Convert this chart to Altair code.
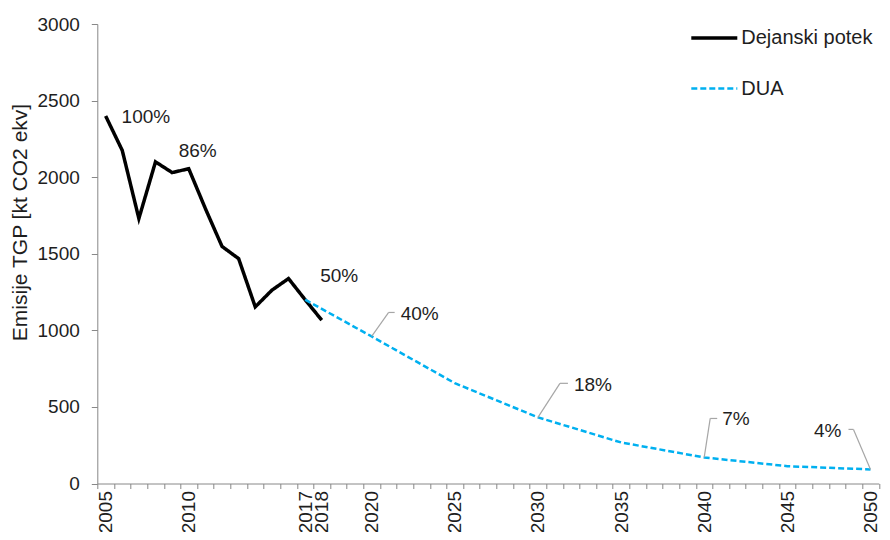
import altair as alt
import pandas as pd

# ---- categories of the x axis (Excel category axis, one blank slot after 2018) ----
categories = [str(y) for y in range(2005, 2020)] + ["2019b"] + [str(y) for y in range(2020, 2051)]
shown_labels = ["2005", "2010", "2017", "2018", "2020", "2025", "2030", "2035", "2040", "2045", "2050"]

# ---- series ----
series_names = ["Dejanski potek", "DUA"]
actual_years = ["2005", "2006", "2007", "2008", "2009", "2010", "2011", "2012",
                "2013", "2014", "2015", "2016", "2017", "2018"]
actual_values = [2400, 2175, 1730, 2100, 2030, 2055, 1795, 1548, 1468, 1153, 1262, 1338, 1200, 1066]

dua_years = ["2017", "2020", "2025", "2030", "2035", "2040", "2045", "2050"]
dua_values = [1200, 960, 655, 432, 268, 170, 113, 92]

# ---- percentage annotations ----
label_years = ["2005", "2010", "2017", "2020", "2030", "2040", "2050"]
label_texts = ["100%", "86%", "50%", "40%", "18%", "7%", "4%"]
label_source = ["Dejanski potek", "Dejanski potek", "Dejanski potek", "DUA", "DUA", "DUA", "DUA"]

line_df = pd.DataFrame({
    "cat": actual_years + dua_years,
    "value": actual_values + dua_values,
    "series": [series_names[0]] * len(actual_years) + [series_names[1]] * len(dua_years),
})

lookup = {(s, c): v for s, c, v in zip(line_df["series"], line_df["cat"], line_df["value"])}
label_df = pd.DataFrame({
    "cat": label_years,
    "text": label_texts,
    "value": [lookup[(s, c)] for s, c in zip(label_source, label_years)],
})

FONT = "Liberation Sans"
TXT = "#1e1e1e"
AX = "#888888"
LEAD = "#a6a6a6"
BLUE = "#00B0F0"

shown_js = "[" + ",".join("'%s'" % s for s in shown_labels) + "]"
x_axis = alt.Axis(
    title=None, labelExpr="indexof(%s, datum.value) >= 0 ? datum.value : ''" % shown_js,
    labelAngle=270, labelOverlap=False, ticks=True, tickBand="extent", tickSize=5, tickWidth=1,
    labelPadding=2, labelFontSize=19, labelFont=FONT, labelColor=TXT,
    domainColor=AX, tickColor=AX, grid=False,
)
x_enc = alt.X("cat:O", scale=alt.Scale(type="band", domain=categories, paddingInner=0, paddingOuter=0),
              axis=x_axis)
y_axis = alt.Axis(
    values=[0, 500, 1000, 1500, 2000, 2500, 3000], format="d", title="Emisije TGP [kt CO2 ekv]",
    titleFontSize=21, titleFont=FONT, titleColor=TXT, titleFontWeight="normal",
    titleAngle=270, titleX=-77, titleY=198, titleAlign="center", titleBaseline="middle",
    labelFontSize=19, labelFont=FONT, labelColor=TXT, tickSize=6, labelPadding=12,
    domainColor=AX, tickColor=AX, grid=False,
)
y_enc = alt.Y("value:Q", scale=alt.Scale(domain=[0, 3000], nice=False), axis=y_axis)

legend = alt.Legend(
    title=None, orient="none", legendX=592, legendY=-11, symbolType="stroke", symbolSize=2116,
    labelFontSize=20, labelFont=FONT, labelColor=TXT, labelOffset=2, rowPadding=16,
)

lines = alt.Chart(line_df).mark_line().encode(
    x=x_enc, y=y_enc,
    color=alt.Color("series:N", scale=alt.Scale(domain=series_names, range=["#000000", BLUE]), legend=legend),
    strokeDash=alt.StrokeDash("series:N", scale=alt.Scale(domain=series_names, range=[[1, 0], [6, 3]]), legend=legend),
    strokeWidth=alt.StrokeWidth("series:N", scale=alt.Scale(domain=series_names, range=[3.5, 2.5]), legend=legend),
)

# per-label placement styles: (align, dx, dy, leader elbow (dx, dy), leader end dx)
styles = {
    "2005": ("left", 16, 1, None, None),
    "2010": ("center", 9, -18, None, None),
    "2017": ("left", 15, -24, None, None),
    "2020": ("left", 29, -22, (17, -24), 23),
    "2030": ("left", 36, -32, (22, -34), 30),
    "2040": ("left", 18, -38, (6, -39), 13),
    "2050": ("right", -29, -38, (-17, -40), -22),
}

layers = [lines]
for yr in label_years:
    align, dx, dy, elbow, end_dx = styles[yr]
    base = alt.Chart(label_df).transform_filter(alt.datum.cat == yr)
    if elbow is not None:
        ex, ey = elbow
        layers.append(base.mark_rule(color=LEAD, strokeWidth=1.2, x2Offset=ex, y2Offset=ey).encode(
            x=x_enc, y=y_enc, x2="cat:O", y2="value:Q"))
        layers.append(base.mark_rule(color=LEAD, strokeWidth=1.2, xOffset=ex, yOffset=ey,
                                     x2Offset=end_dx, y2Offset=ey).encode(
            x=x_enc, y=y_enc, x2="cat:O", y2="value:Q"))
    layers.append(base.mark_text(align=align, baseline="middle", dx=dx, dy=dy, fontSize=19,
                                 font=FONT, color=TXT).encode(x=x_enc, y=y_enc, text="text:N"))

chart = alt.layer(*layers).properties(
    width=781.5, height=459.5,
    padding={"left": 89.3, "top": 16, "right": 3.2, "bottom": 48.5},
    autosize=alt.AutoSizeParams(type="none"),
).configure_view(stroke=None)

chart.save("out.html", embed_options={"renderer": "svg", "actions": False})
